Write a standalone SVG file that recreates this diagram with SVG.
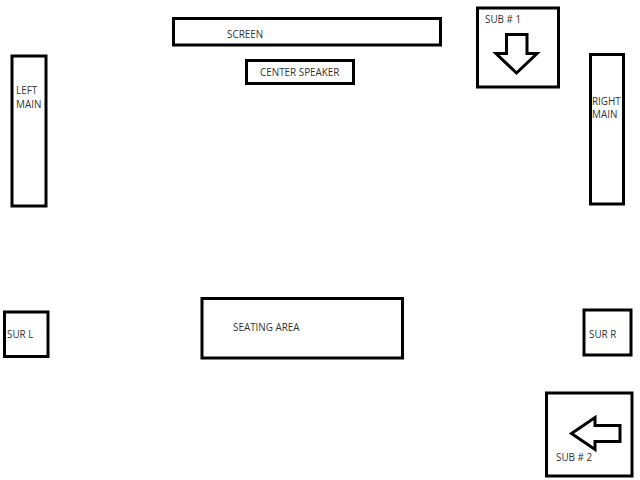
<svg xmlns="http://www.w3.org/2000/svg" width="640" height="480" viewBox="0 0 640 480">
<style>
.b{fill:#fff;stroke:#000;stroke-width:3}
.a{fill:#fff;stroke:#000;stroke-width:3;stroke-linejoin:miter}
text{font-family:"Open Sans","Liberation Sans",sans-serif;font-size:9.9px;fill:#333}
</style>
<rect width="640" height="480" fill="#fff"/>
<g id="screen"><rect class="b" x="173.500" y="18.500" width="267" height="26.500"/><text x="227" y="37.500">SCREEN</text></g>
<g id="center-speaker"><rect class="b" x="246.500" y="60.500" width="107" height="23"/><text x="260" y="76">CENTER SPEAKER</text></g>
<g id="sub-1"><rect class="b" x="477.500" y="8" width="81" height="79"/><text x="485" y="23">SUB # 1</text><polygon class="a" points="506.500,34.500 527,34.500 527,53.500 537,53.500 516.500,73 496,53.500 506.500,53.500"/></g>
<g id="left-main"><rect class="b" x="12" y="56" width="34" height="150"/><text x="16" y="94">LEFT</text><text x="16" y="108">MAIN</text></g>
<g id="right-main"><rect class="b" x="590.500" y="54.500" width="33" height="149.500"/><text x="592" y="105">RIGHT</text><text x="592" y="118">MAIN</text></g>
<g id="sur-l"><rect class="b" x="4.500" y="312" width="43.500" height="44.500"/><text x="7" y="338">SUR L</text></g>
<g id="seating-area"><rect class="b" x="202" y="298.500" width="200.500" height="59.500"/><text x="233" y="331">SEATING AREA</text></g>
<g id="sur-r"><rect class="b" x="584" y="310" width="47" height="45"/><text x="589" y="338">SUR R</text></g>
<g id="sub-2"><rect class="b" x="546.500" y="393" width="85.500" height="83"/><text x="556" y="461">SUB # 2</text><polygon class="a" points="571.500,433.500 595,417.500 595,425.500 620,425.500 620,441.500 595,441.500 595,449.500"/></g>
</svg>
